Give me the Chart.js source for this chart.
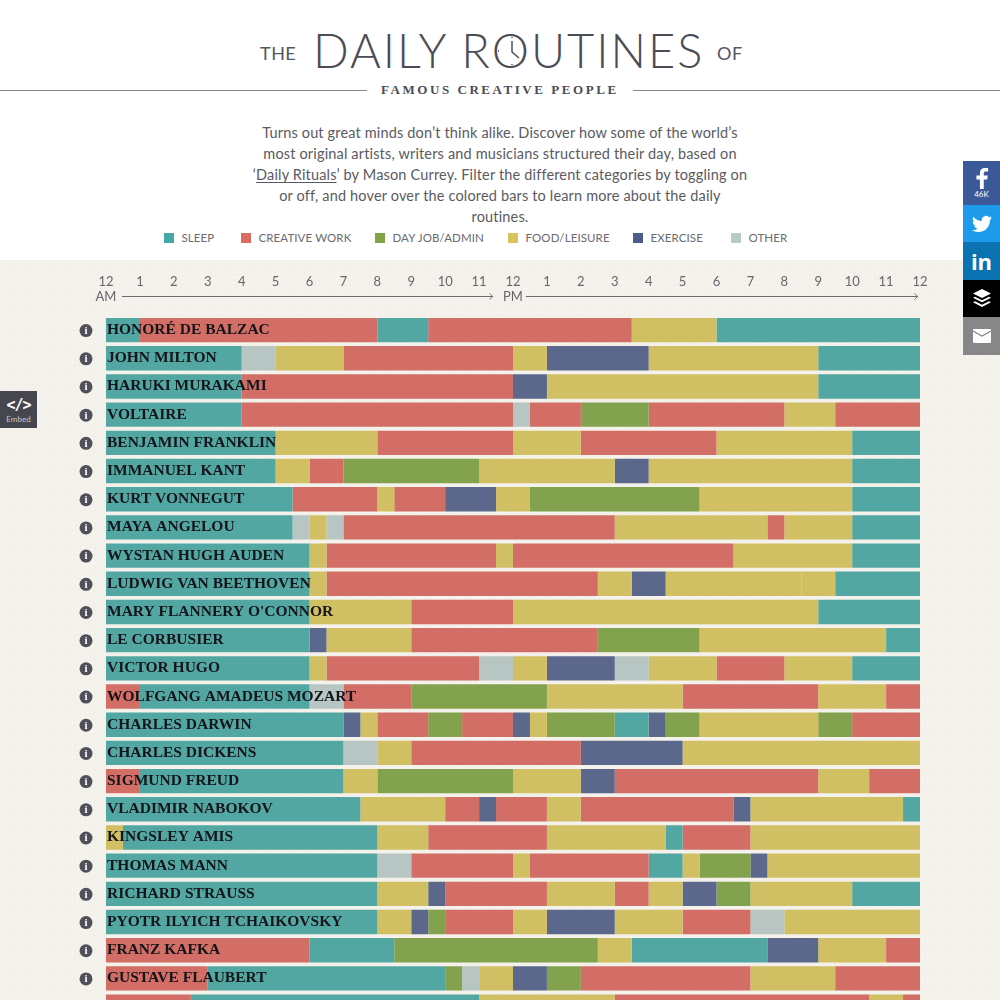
<!DOCTYPE html>
<html>
<head>
<meta charset="utf-8">
<title>The Daily Routines of Famous Creative People</title>
<script src="https://cdn.jsdelivr.net/npm/chart.js@4/dist/chart.umd.min.js"></script>
<style>
    html, body { margin: 0; width: 1000px; height: 1000px; overflow: hidden; background: #fff; font-family: Lato, sans-serif; color: #55555f; }
    .paper { position: absolute; left: 0; top: 260px; width: 1000px; height: 740px; background-color: #f3f1ea; background-image: radial-gradient(rgba(255,255,255,.18) 1px, transparent 1.5px); background-size: 5px 5px; }
    #routines { position: absolute; left: 0; top: 260px; }
    .abs { position: absolute; white-space: nowrap; }
    .big { font-weight: 300; font-size: 47px; line-height: 47px; letter-spacing: 2px; top: 27px; left: 313px; color: #4c4c56; }
    .small { font-weight: 400; font-size: 18px; line-height: 18px; top: 44px; color: #55555f; letter-spacing: .5px; }
    .rule { height: 1px; top: 90px; background: #85858a; }
    .sub { left: 381px; top: 82px; font: bold 13px/16px "Liberation Serif", serif; letter-spacing: 2.55px; color: #4c4c56; }
    .intro { left: 200px; width: 600px; top: 122px; text-align: center; font-size: 14.5px; line-height: 21px; letter-spacing: .16px; color: #5a5a62; }
    .intro u { text-underline-offset: 2px; }
    #legend { left: 164px; top: 231px; display: flex; font-size: 11.5px; line-height: 13px; letter-spacing: .1px; color: #6a6a70; }
    #legend span { display: flex; align-items: center; }
    #legend span:nth-child(1) { width: 77px; }
    #legend span:nth-child(2) { width: 134px; }
    #legend span:nth-child(3) { width: 133px; }
    #legend span:nth-child(4) { width: 125px; }
    #legend span:nth-child(5) { width: 98px; }
    #legend i { width: 10px; height: 10px; margin-right: 7.5px; }
    .share { left: 963px; width: 37px; display: flex; flex-direction: column; align-items: center; justify-content: center; color: #fff; }
    .embed { left: 0; top: 391px; width: 37px; height: 37px; background: #46464f; color: #fff; text-align: center; }
</style>
</head>
<body>
<div class="paper"></div>

<div class="abs small" style="left:260px">THE</div>
<div class="abs big">DAILY ROUTINES</div>
<div class="abs small" style="left:717px">OF</div>
<svg class="abs" style="left:495px;top:34px" width="34" height="34" stroke="#4c4c56" fill="none">
    <path d="M17 7V18L24 24" stroke-width="1.5"/>
    <path d="M17 3v1M17 30v1M3 17h1M30 17h1" stroke-width="1.5"/>
</svg>
<div class="abs rule" style="left:0;width:367px"></div>
<div class="abs sub">FAMOUS CREATIVE PEOPLE</div>
<div class="abs rule" style="left:633px;width:367px"></div>
<div class="abs intro">Turns out great minds don’t think alike. Discover how some of the world’s<br>most original artists, writers and musicians structured their day, based on<br>‘<u>Daily Rituals</u>’ by Mason Currey. Filter the different categories by toggling on<br>or off, and hover over the colored bars to learn more about the daily<br>routines.</div>
<div class="abs" id="legend"></div>

<canvas id="routines" width="1000" height="771"></canvas>

<div class="abs share" style="top:161px;height:44px;background:#3b5998">
    <svg width="14" height="21" viewBox="0 0 14 24" fill="#fff"><path d="M9 24V13h4l.6-4.400H9V6.200C9 5 9.400 4 11.200 4H14V.2C13.500.1 12 0 10.400 0 7 0 4.600 2 4.600 5.800v2.800H.6V13h4v11z"/></svg>
    <div style="font-size:8px;line-height:10px">46K</div>
</div>
<div class="abs share" style="top:205px;height:37px;background:#1d9bea">
    <svg width="20" height="20" viewBox="0 0 24 24" fill="#fff"><path d="M23.950 4.570a10 10 0 01-2.820.78 4.960 4.960 0 002.160-2.720c-.95.55-2 .96-3.130 1.200a4.920 4.920 0 00-8.380 4.480C7.690 8.100 4.070 6.130 1.640 3.160a4.820 4.820 0 00-.67 2.480c0 1.710.87 3.210 2.190 4.100a4.900 4.900 0 01-2.230-.62v.06a4.920 4.920 0 003.950 4.830 4.990 4.990 0 01-2.210.08 4.940 4.940 0 004.600 3.420 9.870 9.870 0 01-6.100 2.100c-.39 0-.78-.02-1.170-.07a13.990 13.990 0 007.550 2.200c9.060 0 14-7.500 14-13.980 0-.21 0-.42-.02-.63a9.940 9.940 0 002.460-2.550z"/></svg>
</div>
<div class="abs share" style="top:242px;height:38px;background:#0a72b0;font:bold 22px/24px 'Open Sans',sans-serif">in</div>
<div class="abs share" style="top:280px;height:37px;background:#000">
    <svg width="18" height="20" viewBox="0 0 18 20" fill="#fff"><path d="M9 0l9 4.500-9 4.500-9-4.500zM0 8.800l2-1 7 3.500 7-3.500 2 1-9 4.500zM0 13.300l2-1 7 3.500 7-3.500 2 1L9 18z"/></svg>
</div>
<div class="abs share" style="top:317px;height:38px;background:#878787">
    <svg width="18" height="14" viewBox="0 0 18 14"><rect width="18" height="14" rx="1" fill="#fff"/><path d="M0 2l9 5 9-5" fill="none" stroke="#878787" stroke-width="1.200"/></svg>
</div>
<div class="abs embed">
    <div style="font:bold 15px/17px 'DejaVu Sans Mono',monospace;margin-top:6px;letter-spacing:-1px">&lt;/&gt;</div>
    <div style="font-size:8px;line-height:10px;color:#c8c8cc">Embed</div>
</div>

<script>
const categories = ['SLEEP', 'CREATIVE WORK', 'DAY JOB/ADMIN', 'FOOD/LEISURE', 'EXERCISE', 'OTHER'];
const catColors = ['#53a7a3', '#d26e65', '#83a24e', '#d1bf63', '#5c688b', '#b7c6c3'];
const swatchColors = ['#45a9a8', '#dc6b60', '#7fa545', '#d6c45c', '#4e5c8c', '#b8cac8'];
const [S, C, J, F, E, O] = [0, 1, 2, 3, 4, 5];

const hourLabels = ['12', '1', '2', '3', '4', '5', '6', '7', '8', '9', '10', '11', '12', '1', '2', '3', '4', '5', '6', '7', '8', '9', '10', '11', '12'];

const people = [
    'HONORÉ DE BALZAC', 'JOHN MILTON', 'HARUKI MURAKAMI', 'VOLTAIRE', 'BENJAMIN FRANKLIN',
    'IMMANUEL KANT', 'KURT VONNEGUT', 'MAYA ANGELOU', 'WYSTAN HUGH AUDEN', 'LUDWIG VAN BEETHOVEN',
    "MARY FLANNERY O'CONNOR", 'LE CORBUSIER', 'VICTOR HUGO', 'WOLFGANG AMADEUS MOZART', 'CHARLES DARWIN',
    'CHARLES DICKENS', 'SIGMUND FREUD', 'VLADIMIR NABOKOV', 'KINGSLEY AMIS', 'THOMAS MANN',
    'RICHARD STRAUSS', 'PYOTR ILYICH TCHAIKOVSKY', 'FRANZ KAFKA', 'GUSTAVE FLAUBERT', ''
];

// each block is [category, hour it ends]
const schedules = [
    [[S, 1], [C, 8], [S, 9.5], [C, 15.5], [F, 18], [S, 24]],
    [[S, 4], [O, 5], [F, 7], [C, 12], [F, 13], [E, 16], [F, 21], [S, 24]],
    [[S, 4], [C, 12], [E, 13], [F, 21], [S, 24]],
    [[S, 4], [C, 12], [O, 12.5], [C, 14], [J, 16], [C, 20], [F, 21.5], [C, 24]],
    [[S, 5], [F, 8], [C, 12], [F, 14], [C, 18], [F, 22], [S, 24]],
    [[S, 5], [F, 6], [C, 7], [J, 11], [F, 15], [E, 16], [F, 22], [S, 24]],
    [[S, 5.5], [C, 8], [F, 8.5], [C, 10], [E, 11.5], [F, 12.5], [J, 17.5], [F, 22], [S, 24]],
    [[S, 5.5], [O, 6], [F, 6.5], [O, 7], [C, 15], [F, 19.5], [C, 20], [F, 22], [S, 24]],
    [[S, 6], [F, 6.5], [C, 11.5], [F, 12], [C, 18.5], [F, 22], [S, 24]],
    [[S, 6], [F, 6.5], [C, 14.5], [F, 15.5], [E, 16.5], [F, 20.5], [F, 21.5], [S, 24]],
    [[S, 6], [F, 9], [C, 12], [F, 21], [S, 24]],
    [[S, 6], [E, 6.5], [F, 9], [C, 14.5], [J, 17.5], [F, 23], [S, 24]],
    [[S, 6], [F, 6.5], [C, 11], [O, 12], [F, 13], [E, 15], [O, 16], [F, 18], [C, 20], [F, 22], [S, 24]],
    [[C, 1], [S, 6], [O, 7], [C, 9], [J, 13], [F, 17], [C, 21], [F, 23], [C, 24]],
    [[S, 7], [E, 7.5], [F, 8], [C, 9.5], [J, 10.5], [C, 12], [E, 12.5], [F, 13], [J, 15], [S, 16], [E, 16.5], [J, 17.5], [F, 21], [J, 22], [C, 24]],
    [[S, 7], [O, 8], [F, 9], [C, 14], [E, 17], [F, 24]],
    [[C, 1], [S, 7], [F, 8], [J, 12], [F, 14], [E, 15], [C, 21], [F, 22.5], [C, 24]],
    [[S, 7.5], [F, 10], [C, 11], [E, 11.5], [C, 13], [F, 14], [C, 18.5], [E, 19], [F, 23.5], [S, 24]],
    [[F, 0.5], [S, 8], [F, 9.5], [C, 13], [F, 16.5], [S, 17], [C, 19], [F, 24]],
    [[S, 8], [O, 9], [C, 12], [F, 12.5], [C, 16], [S, 17], [F, 17.5], [J, 19], [E, 19.5], [F, 24]],
    [[S, 8], [F, 9.5], [E, 10], [C, 13], [F, 15], [C, 16], [F, 17], [E, 18], [J, 19], [F, 22], [S, 24]],
    [[S, 8], [F, 9], [E, 9.5], [J, 10], [C, 12], [F, 13], [E, 15], [F, 17], [C, 19], [O, 20], [F, 24]],
    [[C, 6], [S, 8.5], [J, 14.5], [F, 15.5], [S, 19.5], [E, 21], [F, 23], [C, 24]],
    [[C, 3], [S, 10], [J, 10.5], [O, 11], [F, 12], [E, 13], [J, 14], [C, 19], [F, 21.5], [C, 24]],
    [[C, 2.5], [S, 11], [F, 15], [C, 22.5], [F, 23.5], [C, 24]]
];

document.getElementById('legend').innerHTML = categories
    .map((name, i) => `<span><i style="background:${swatchColors[i]}"></i>${name}</span>`)
    .join('');

const blockCount = Math.max(...schedules.map(s => s.length));
const datasets = [];
for (let j = 0; j < blockCount; j++) {
    datasets.push({
        data: schedules.map(s => s[j] ? [j ? s[j - 1][1] : 0, s[j][1]] : null),
        backgroundColor: schedules.map(s => s[j] ? catColors[s[j][0]] : 'transparent'),
        categoryPercentage: 1,
        barPercentage: 0.865,
        grouped: false
    });
}

// info icons and the AM/PM arrows
const extras = {
    id: 'extras',
    afterDatasetsDraw(chart) {
        const { ctx, scales: { x, y } } = chart;
        ctx.save();
        people.forEach((name, i) => {
            const cy = y.getPixelForValue(i);
            ctx.fillStyle = '#50505a';
            ctx.beginPath();
            ctx.arc(x.left - 20, cy + 0.5, 6.5, 0, Math.PI * 2);
            ctx.fill();
            ctx.fillStyle = '#fff';
            ctx.font = 'bold 11px "Liberation Serif", serif';
            ctx.textAlign = 'center';
            ctx.textBaseline = 'middle';
            ctx.fillText('i', x.left - 20, cy + 1);
        });
        ctx.strokeStyle = '#6a6a6e';
        ctx.lineWidth = 1;
        [[0.47, 11.4], [12.38, 23.93]].forEach(([from, to]) => {
            const x0 = x.getPixelForValue(from);
            const x1 = x.getPixelForValue(to);
            const ay = x.bottom - 19.5;
            ctx.beginPath();
            ctx.moveTo(x0, ay);
            ctx.lineTo(x1, ay);
            ctx.moveTo(x1 - 3, ay - 3);
            ctx.lineTo(x1, ay);
            ctx.lineTo(x1 - 3, ay + 3);
            ctx.stroke();
        });
        ctx.restore();
    }
};

new Chart(document.getElementById('routines').getContext('2d'), {
    type: 'bar',
    data: { labels: people, datasets },
    plugins: [extras],
    options: {
        indexAxis: 'y',
        responsive: false,
        animation: false,
        layout: { padding: { left: 104, right: 80 } },
        plugins: { legend: { display: false }, tooltip: { enabled: false } },
        scales: {
            x: {
                position: 'top',
                min: 0,
                max: 24,
                border: { display: false },
                grid: { display: false, drawTicks: false },
                afterFit(axis) { axis.height = 56; },
                ticks: {
                    stepSize: 1,
                    autoSkip: false,
                    maxRotation: 0,
                    padding: 12,
                    color: '#66666c',
                    font: { family: 'Lato', size: 13, lineHeight: 1.15 },
                    callback(value) {
                        if (value === 0) return [hourLabels[value], 'AM'];
                        if (value === 12) return [hourLabels[value], 'PM'];
                        return [hourLabels[value], ''];
                    }
                }
            },
            y: {
                border: { display: false },
                grid: { display: false, drawTicks: false },
                ticks: {
                    mirror: true,
                    z: 1,
                    padding: 1,
                    autoSkip: false,
                    color: '#14141a',
                    font: { family: 'Liberation Serif', size: 15.5, weight: 'bold' }
                }
            }
        }
    }
});
</script>
</body>
</html>
